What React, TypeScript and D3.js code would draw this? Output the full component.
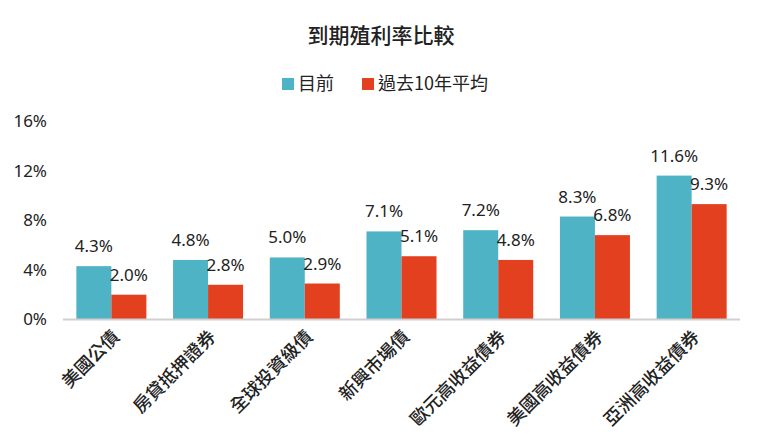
import React from "react";
import * as d3 from "d3";

const categories = ["美國公債", "房貸抵押證券", "全球投資級債", "新興市場債", "歐元高收益債券", "美國高收益債券", "亞洲高收益債券"];
const currentValues = [4.3, 4.8, 5.0, 7.1, 7.2, 8.3, 11.6];
const avgValues = [2.0, 2.8, 2.9, 5.1, 4.8, 6.8, 9.3];
const seriesNames = ["目前", "過去10年平均"];
const yTicks = [0, 4, 8, 12, 16];
const title = "到期殖利率比較";

const W = 760, H = 446;
const COLORS = ["#4FB3C6", "#E2401F"];
const FONT = "'Noto Sans', 'Noto Sans CJK TC', sans-serif";
const CJK = "'Noto Sans CJK TC', 'Noto Sans', sans-serif";

export default function App() {
  const x = d3.scaleBand<string>().domain(categories).range([63, 740]).paddingInner(0.276).paddingOuter(0.138);
  const xs = d3.scaleBand<string>().domain(["0", "1"]).range([0, x.bandwidth()]);
  const y = d3.scaleLinear().domain([0, 16]).range([319.5, 121]);
  const series = [currentValues, avgValues];

  return (
    <svg width={W} height={H} style={{ position: "absolute", left: 0, top: 0, background: "#fff" }}>
      <text x={381} y={43} textAnchor="middle" fontFamily={CJK} fontSize={21} fontWeight={500} fill="#222">{title}</text>
      {/* legend */}
      <g>
        <rect x={282} y={78} width={12} height={12} fill={COLORS[0]} />
        <text x={298} y={90} fontFamily={CJK} fontSize={18} fill="#222">{seriesNames[0]}</text>
        <rect x={362} y={78} width={12} height={12} fill={COLORS[1]} />
        <text x={378} y={90} fontFamily={CJK} fontSize={18} fill="#222">{seriesNames[1]}</text>
      </g>
      {/* y axis labels */}
      {yTicks.map((t) => (
        <text key={t} x={47} y={y(t)} dy="0.35em" textAnchor="end" fontFamily={FONT} fontSize={17} fill="#222">{t}%</text>
      ))}
      {/* bars */}
      {categories.map((c, i) => (
        <g key={c} transform={`translate(${x(c)},0)`}>
          {series.map((vals, s) => {
            const bx = xs(String(s))!;
            const bw = xs.bandwidth();
            return (
              <g key={s}>
                <rect x={bx} y={y(vals[i])} width={bw} height={y(0) - y(vals[i])} fill={COLORS[s]} />
                <text x={bx + bw / 2} y={y(vals[i]) - 14} textAnchor="middle" fontFamily={FONT} fontSize={17} fill="#222">{vals[i].toFixed(1)}%</text>
              </g>
            );
          })}
        </g>
      ))}
      {/* baseline */}
      <line x1={63} x2={740} y1={y(0)} y2={y(0)} stroke="#d0d0d0" strokeWidth={2} />
      {/* x labels */}
      {categories.map((c) => {
        const cx = x(c)! + x.bandwidth() / 2;
        return (
          <text key={c} transform={`translate(${cx + 9},${338}) rotate(-45)`} textAnchor="end" fontFamily={CJK} fontSize={18} fontWeight={500} fill="#222">{c}</text>
        );
      })}
    </svg>
  );
}
